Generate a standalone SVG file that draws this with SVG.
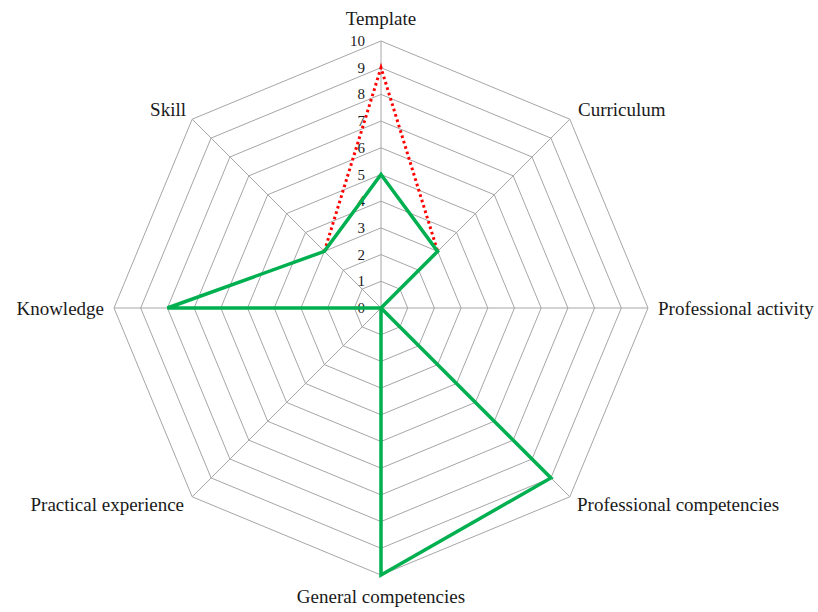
<svg xmlns="http://www.w3.org/2000/svg" width="818" height="612" viewBox="0 0 818 612">
<style>
.grid{fill:none;stroke:#a6a6a6;stroke-width:1}
.lbl{font-family:"Liberation Serif","Times New Roman",serif;font-size:19px;fill:#1a1a1a}
.tick{font-family:"Liberation Serif","Times New Roman",serif;font-size:15px;fill:#1a1a1a;text-anchor:end}
.green{fill:none;stroke:#00b050;stroke-width:3.5;stroke-linejoin:miter}
.red{fill:none;stroke:#ff0000;stroke-width:3;stroke-dasharray:2.6 3;}
</style>
<rect width="818" height="612" fill="#ffffff"/>
<g id="grid">
<polygon class="grid" points="381,281.3 399.88,289.12 407.7,308 399.88,326.88 381,334.7 362.12,326.88 354.3,308 362.12,289.12"/>
<polygon class="grid" points="381,254.6 418.76,270.24 434.4,308 418.76,345.76 381,361.4 343.24,345.76 327.6,308 343.24,270.24"/>
<polygon class="grid" points="381,227.9 437.64,251.36 461.1,308 437.64,364.64 381,388.1 324.36,364.64 300.9,308 324.36,251.36"/>
<polygon class="grid" points="381,201.2 456.52,232.48 487.8,308 456.52,383.52 381,414.8 305.48,383.52 274.2,308 305.48,232.48"/>
<polygon class="grid" points="381,174.5 475.4,213.6 514.5,308 475.4,402.4 381,441.5 286.6,402.4 247.5,308 286.6,213.6"/>
<polygon class="grid" points="381,147.8 494.28,194.72 541.2,308 494.28,421.28 381,468.2 267.72,421.28 220.8,308 267.72,194.72"/>
<polygon class="grid" points="381,121.1 513.16,175.84 567.9,308 513.16,440.16 381,494.9 248.84,440.16 194.1,308 248.84,175.84"/>
<polygon class="grid" points="381,94.4 532.04,156.96 594.6,308 532.04,459.04 381,521.6 229.96,459.04 167.4,308 229.96,156.96"/>
<polygon class="grid" points="381,67.7 550.92,138.08 621.3,308 550.92,477.92 381,548.3 211.08,477.92 140.7,308 211.08,138.08"/>
<polygon class="grid" points="381,41 569.8,119.2 648,308 569.8,496.8 381,575 192.2,496.8 114,308 192.2,119.2"/>
<path class="grid" d="M381,308L381,41M381,308L569.8,119.2M381,308L648,308M381,308L569.8,496.8M381,308L381,575M381,308L192.2,496.8M381,308L114,308M381,308L192.2,119.2"/>
</g>
<g id="ticks">
<text class="tick" x="365" y="313">0</text>
<text class="tick" x="365" y="286.3">1</text>
<text class="tick" x="365" y="259.6">2</text>
<text class="tick" x="365" y="232.9">3</text>
<text class="tick" x="365" y="206.2">4</text>
<text class="tick" x="365" y="179.5">5</text>
<text class="tick" x="365" y="152.8">6</text>
<text class="tick" x="365" y="126.1">7</text>
<text class="tick" x="365" y="99.4">8</text>
<text class="tick" x="365" y="72.7">9</text>
<text class="tick" x="365" y="46">10</text>
</g>
<g id="series">
<polyline class="red" points="324.36,251.36 381,67.7 437.64,251.36"/>
<polygon class="green" points="381,174.5 437.64,251.36 381,308 550.92,477.92 381,575 381,308 167.4,308 324.36,251.36"/>
</g>
<g id="labels">
<text class="lbl" x="381" y="25" text-anchor="middle">Template</text>
<text class="lbl" x="578" y="116">Curriculum</text>
<text class="lbl" x="658" y="315">Professional activity</text>
<text class="lbl" x="577" y="511">Professional competencies</text>
<text class="lbl" x="381" y="603" text-anchor="middle">General competencies</text>
<text class="lbl" x="184" y="511" text-anchor="end">Practical experience</text>
<text class="lbl" x="104" y="315" text-anchor="end">Knowledge</text>
<text class="lbl" x="186" y="116" text-anchor="end">Skill</text>
</g>
</svg>
